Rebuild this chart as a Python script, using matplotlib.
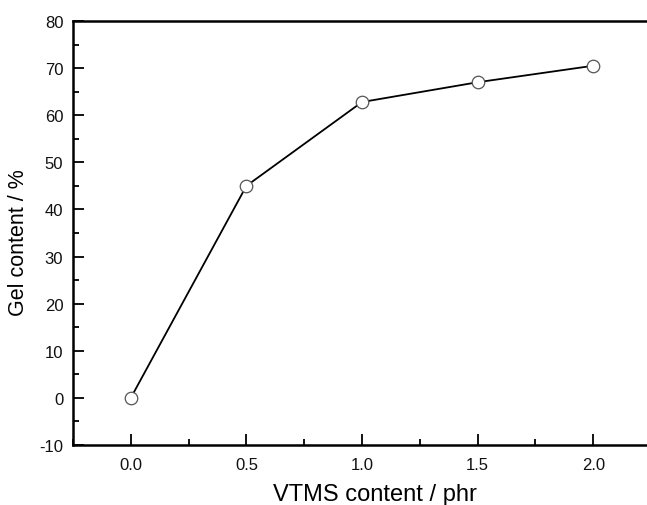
import matplotlib
matplotlib.use("Agg")
import matplotlib.pyplot as plt
from matplotlib.ticker import MultipleLocator, FormatStrFormatter

plt.rcParams['font.family'] = ['Liberation Sans', 'DejaVu Sans']

vtms = [0.0, 0.5, 1.0, 1.5, 2.0]
gel = [0.0, 45.0, 62.8, 67.0, 70.5]

fig = plt.figure(figsize=(6.47, 5.06), dpi=100)
W, H = 647, 506
ax = fig.add_axes([73 / W, (H - 446) / H, (651 - 73) / W, (446 - 22) / H])

ax.plot(vtms, gel, color='black', linewidth=1.3, marker='o', markersize=9,
        markerfacecolor='white', markeredgecolor='#555555', markeredgewidth=0.9)

ax.set_xlim(-0.25, 2.25)
ax.set_ylim(-10, 80)
ax.xaxis.set_major_locator(MultipleLocator(0.5))
ax.xaxis.set_minor_locator(MultipleLocator(0.25))
ax.yaxis.set_major_locator(MultipleLocator(10))
ax.yaxis.set_minor_locator(MultipleLocator(5))
ax.xaxis.set_major_formatter(FormatStrFormatter('%.1f'))
ax.yaxis.set_major_formatter(FormatStrFormatter('%d'))

for s in ['left', 'bottom', 'top']:
    ax.spines[s].set_linewidth(1.8)
ax.spines['right'].set_visible(False)

ax.tick_params(which='major', direction='in', length=8, width=1.3, labelsize=12,
               top=False, right=False, labelcolor='#111111')
ax.tick_params(which='minor', direction='in', length=4, width=1.3, top=False, right=False)
ax.tick_params(axis='x', which='major', pad=9)
ax.tick_params(axis='y', which='major', pad=7)

ax.set_xlabel('VTMS content / phr', fontsize=17)
ax.set_ylabel('Gel content / %', fontsize=15.5)
ax.xaxis.set_label_coords(0.5225, -0.089)
ax.yaxis.set_label_coords(-0.076, 0.48)

fig.savefig('out.png', dpi=100)
